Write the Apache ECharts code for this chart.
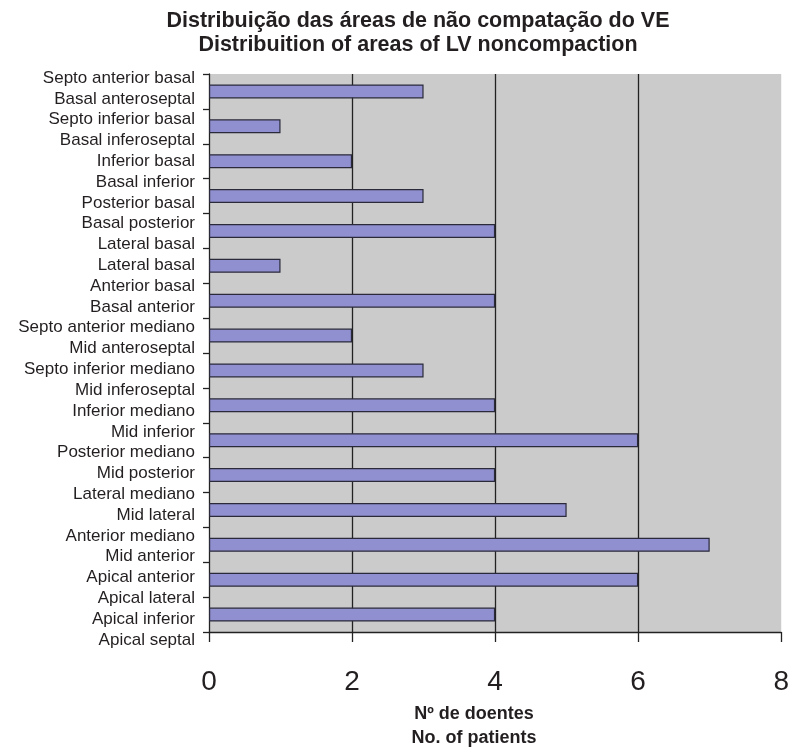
<!DOCTYPE html>
<html>
<head>
<meta charset="utf-8">
<script src="https://cdn.jsdelivr.net/npm/echarts@6/dist/echarts.min.js"></script>
<style>html,body{margin:0;padding:0;background:#fff;overflow:hidden}#c{width:792px;height:750px}</style>
</head>
<body>
<div id="c"></div>
<script>
// Axis labels as printed in the figure (Portuguese / English pairs)
const axisLabels = [
  "Septo anterior basal", "Basal anteroseptal", "Septo inferior basal", "Basal inferoseptal",
  "Inferior basal", "Basal inferior", "Posterior basal", "Basal posterior",
  "Lateral basal", "Lateral basal", "Anterior basal", "Basal anterior",
  "Septo anterior mediano", "Mid anteroseptal", "Septo inferior mediano", "Mid inferoseptal",
  "Inferior mediano", "Mid inferior", "Posterior mediano", "Mid posterior",
  "Lateral mediano", "Mid lateral", "Anterior mediano", "Mid anterior",
  "Apical anterior", "Apical lateral", "Apical inferior", "Apical septal"
];
// 16 LV segments (bars, top to bottom)
const segments = [
  "Basal anteroseptal", "Basal inferoseptal", "Basal inferior", "Basal posterior",
  "Basal lateral", "Basal anterior", "Mid anteroseptal", "Mid inferoseptal",
  "Mid inferior", "Mid posterior", "Mid lateral", "Mid anterior",
  "Apical anterior", "Apical lateral", "Apical inferior", "Apical septal"
];
const patients = [3, 1, 2, 3, 4, 1, 4, 2, 3, 4, 6, 4, 5, 7, 6, 4];
const xTicks = [0, 2, 4, 6, 8];
const titleLines = ["Distribuição das áreas de não compatação do VE", "Distribuition of areas of LV noncompaction"];
const xNameLines = ["Nº de doentes", "No. of patients"];

const FONT = "Liberation Sans, Arial, Helvetica, sans-serif";
const TXT = "#231f20";
const chart = echarts.init(document.getElementById('c'), null, {renderer: 'canvas', width: 792, height: 750});
chart.setOption({
  backgroundColor: '#ffffff',
  animation: false,
  textStyle: {fontFamily: FONT},
  title: [
    {text: titleLines.join('\n'), left: 413, top: 4, textAlign: 'center',
     textStyle: {fontFamily: FONT, fontSize: 21.5, fontWeight: 'bold', color: TXT, lineHeight: 24}},
    {text: xNameLines.join('\n'), left: 469, top: 697, textAlign: 'center',
     textStyle: {fontFamily: FONT, fontSize: 18, fontWeight: 'bold', color: TXT, lineHeight: 24}}
  ],
  grid: [
    {left: 209, right: 5, top: 74, bottom: 118, show: true, backgroundColor: '#cbcbcb', borderWidth: 0, containLabel: false},
    {left: 209, right: 5, top: 78, bottom: 110, show: false, containLabel: false}
  ],
  xAxis: [
    {gridIndex: 0, type: 'value', min: xTicks[0], max: xTicks[xTicks.length - 1], interval: 2,
     axisLine: {show: true, lineStyle: {color: '#222', width: 1.3}},
     axisTick: {show: true, length: 10, lineStyle: {color: '#222', width: 1.3}},
     axisLabel: {fontSize: 28, color: TXT, margin: 36, fontFamily: FONT},
     splitLine: {show: true, showMinLine: false, showMaxLine: false, lineStyle: {color: '#222', width: 1.3}}},
    {gridIndex: 1, type: 'value', show: false, min: 0, max: 8}
  ],
  yAxis: [
    {gridIndex: 0, type: 'category', data: segments, inverse: true,
     axisLine: {show: true, lineStyle: {color: '#222', width: 1.3}},
     axisTick: {show: true, length: 6, lineStyle: {color: '#222', width: 1.3}},
     axisLabel: {show: false}, splitLine: {show: false}},
    {gridIndex: 1, type: 'category', data: axisLabels, inverse: true, boundaryGap: false,
     axisLine: {show: false}, axisTick: {show: false},
     axisLabel: {show: true, interval: 0, fontSize: 17, color: TXT, margin: 14, fontFamily: FONT},
     splitLine: {show: false}}
  ],
  series: [{
    type: 'bar', xAxisIndex: 0, yAxisIndex: 0, data: patients, barWidth: 14,
    itemStyle: {color: '#9090d0', borderColor: '#2a2a3a', borderWidth: 1.2}
  }]
});
</script>
</body>
</html>
